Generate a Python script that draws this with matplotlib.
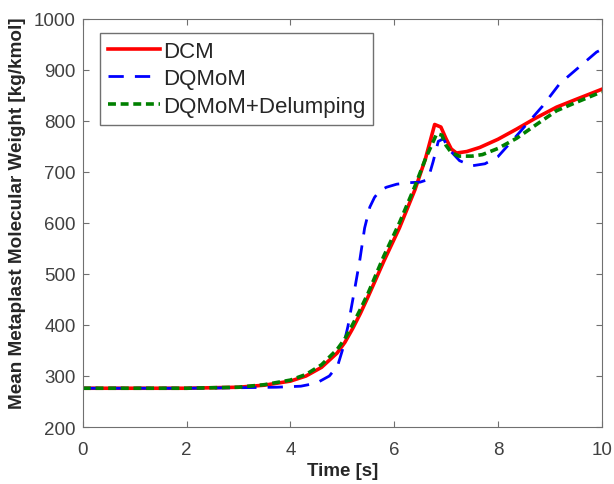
import matplotlib
matplotlib.use('Agg')
import matplotlib.pyplot as plt

plt.rcParams['font.family'] = ['Liberation Sans', 'DejaVu Sans']

# DCM
t_dcm = [0, 1, 2, 3, 3.5, 4, 4.3, 4.6, 4.9, 5.05, 5.2, 5.35, 5.5, 5.8, 6.1, 6.4, 6.6, 6.78,
         6.9, 7.0, 7.1, 7.2, 7.4, 7.65, 8.0, 8.36, 8.7, 9.13, 9.5, 10]
mw_dcm = [276, 276, 276, 278, 282, 290, 300, 317, 345, 366, 393, 423, 456, 525, 590, 665, 725, 793,
          788, 765, 745, 737, 740, 748, 764, 784, 804, 827, 842, 862]

# DQMoM
t_dqmom = [0, 1, 2, 3, 3.73, 4.2, 4.5, 4.75, 4.91, 5.0, 5.11, 5.24, 5.34, 5.43, 5.53,
           5.62, 5.72, 5.85, 6.05, 6.3, 6.5, 6.65, 6.75, 6.85, 6.95, 7.05, 7.26, 7.5,
           7.75, 8.0, 8.36, 8.86, 9.19, 9.5, 9.9, 10]
mw_dqmom = [276, 276, 276, 277, 278, 280, 286, 300, 320, 350, 398, 471, 529, 590, 631,
            650, 663, 670, 676, 679, 680, 685, 720, 760, 765, 745, 722, 712,
            716, 730, 771, 829, 873, 900, 935, 940]

# DQMoM + Delumping
t_delump = [0, 1, 2, 3, 3.5, 4, 4.3, 4.6, 4.9, 5.05, 5.2, 5.35, 5.5, 5.8, 6.1, 6.4, 6.6, 6.82,
            6.92, 7.0, 7.1, 7.25, 7.5, 7.7, 8.0, 8.36, 8.7, 9.13, 9.5, 10]
mw_delump = [276, 276, 276, 278, 283, 292, 303, 322, 352, 373, 401, 431, 463, 535, 600, 672, 725, 775,
             772, 752, 738, 731, 731, 734, 746, 766, 790, 820, 836, 857]

fig = plt.figure(figsize=(6.14, 4.85), dpi=100)
ax = fig.add_axes([0.135, 0.1175, 0.845, 0.8415])

ax.plot(t_dcm, mw_dcm, color='#ff0000', lw=2.6, label='DCM')
ax.plot(t_dqmom, mw_dqmom, color='#0000ff', lw=2.0, dashes=(5.5, 4), label='DQMoM')
ax.plot(t_delump, mw_delump, color='#008000', lw=2.6, dashes=(2.2, 1.3),
        label='DQMoM+Delumping')

ax.set_xlim(0, 10)
ax.set_ylim(200, 1000)
ax.set_xticks(range(0, 11, 2))
ax.set_yticks(range(200, 1001, 100))

for s in ax.spines.values():
    s.set_color('#707070')
ax.tick_params(direction='in', top=True, right=True, length=4, color='#707070',
               labelsize=13.5, labelcolor='#404040')
ax.tick_params(axis='x', pad=10)
ax.tick_params(axis='y', pad=5)
ax.set_xlabel('Time [s]', fontsize=13.5, fontweight='bold', color='#262626')
ax.set_ylabel('Mean Metaplast Molecular Weight [kg/kmol]', fontsize=13.6,
              fontweight='bold', color='#262626')
ax.xaxis.set_label_coords(0.5, -0.085)
ax.yaxis.set_label_coords(-0.11, 0.527)

leg = ax.legend(loc='upper left', bbox_to_anchor=(0.033, 0.966), borderaxespad=0,
                fontsize=16, handlelength=2.35, handletextpad=0.12, labelspacing=0.3,
                borderpad=0.35, fancybox=False, framealpha=1, edgecolor='#707070')
for txt in leg.get_texts():
    txt.set_color('#262626')

fig.savefig('out.png', dpi=100)
